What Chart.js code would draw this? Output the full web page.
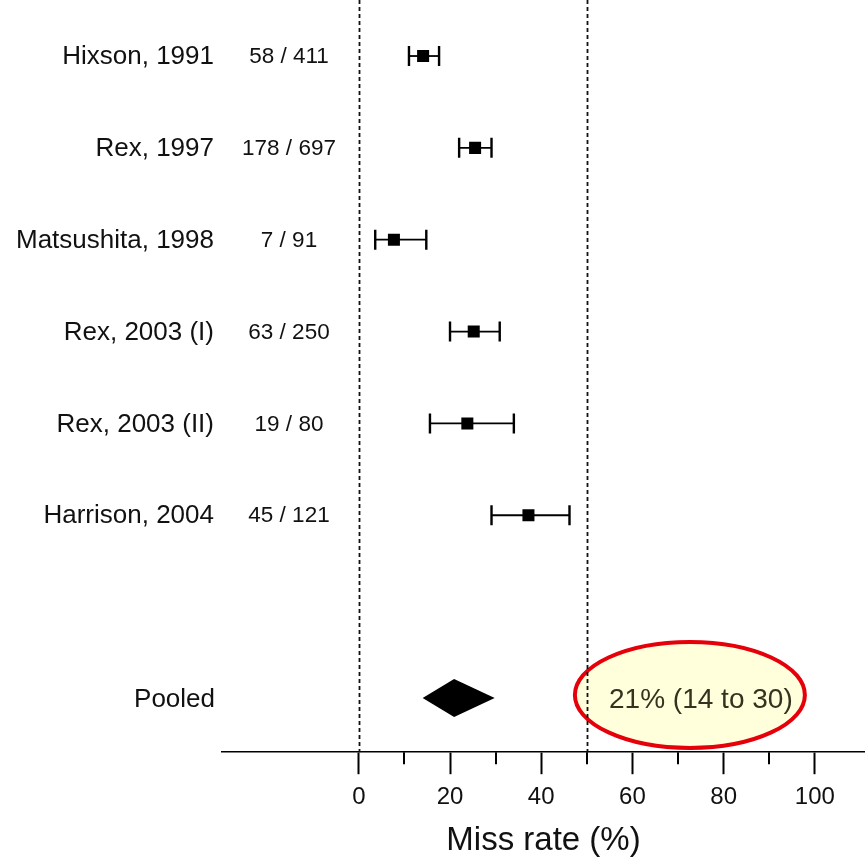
<!DOCTYPE html>
<html>
<head>
<meta charset="utf-8">
<script src="https://cdn.jsdelivr.net/npm/chart.js@4.4.1/dist/chart.umd.min.js"></script>
<style>
  html, body { margin: 0; padding: 0; background: #fff; }
  #wrap { width: 865px; height: 857px; }
</style>
</head>
<body>
<div id="wrap"><canvas id="forest" width="865" height="857"></canvas></div>
<script>
// study data (miss rate %, 95% CI)
const studies = ['Hixson, 1991', 'Rex, 1997', 'Matsushita, 1998', 'Rex, 2003 (I)', 'Rex, 2003 (II)', 'Harrison, 2004'];
const counts = ['58 / 411', '178 / 697', '7 / 91', '63 / 250', '19 / 80', '45 / 121'];
const missRate = [14.1, 25.5, 7.7, 25.2, 23.8, 37.2];
const ciLow = [11.0, 22.0, 3.6, 20.0, 15.6, 29.1];
const ciHigh = [17.6, 29.1, 14.8, 30.9, 34.0, 46.2];
const studyRows = [0, 1, 2, 3, 4, 5];

// pooled estimate
const pooledLabel = 'Pooled';
const pooledRow = 7;
const pooledEst = 20.9;
const pooledLow = 14.0;
const pooledHigh = 29.8;
const pooledText = '21% (14 to 30)';
const highlightX = 72.6;

// axis
const majorTicks = [0, 20, 40, 60, 80, 100];
const minorTicks = [10, 30, 50, 70, 90];
const refLines = [0, 50];

const FONT = "'Liberation Sans', Arial, Helvetica, sans-serif";
Chart.defaults.font.family = FONT;
Chart.defaults.color = '#111';

const forestPlugin = {
  id: 'forest',
  beforeDatasetsDraw(chart) {
    const { ctx, chartArea, scales: { x, y } } = chart;
    ctx.save();

    // highlighted pooled result
    const ey = y.getPixelForValue(pooledRow) - 4;
    ctx.beginPath();
    ctx.ellipse(x.getPixelForValue(highlightX), ey, 115, 53, 0, 0, Math.PI * 2);
    ctx.fillStyle = '#ffffdc';
    ctx.fill();
    ctx.lineWidth = 4;
    ctx.strokeStyle = '#e5000a';
    ctx.stroke();

    // dashed reference lines
    ctx.strokeStyle = '#111';
    ctx.lineWidth = 1.8;
    ctx.setLineDash([4, 3]);
    refLines.forEach(v => {
      const px = Math.round(x.getPixelForValue(v)) + 0.5;
      ctx.beginPath();
      ctx.moveTo(px, chartArea.top);
      ctx.lineTo(px, chartArea.bottom);
      ctx.stroke();
    });
    ctx.setLineDash([]);

    // confidence intervals
    ctx.strokeStyle = '#000';
    studyRows.forEach((r, i) => {
      const py = y.getPixelForValue(r);
      const x1 = x.getPixelForValue(ciLow[i]);
      const x2 = x.getPixelForValue(ciHigh[i]);
      ctx.lineWidth = 1.8;
      ctx.beginPath();
      ctx.moveTo(x1, py);
      ctx.lineTo(x2, py);
      ctx.stroke();
      ctx.lineWidth = 2.4;
      ctx.beginPath();
      ctx.moveTo(x1, py - 10);
      ctx.lineTo(x1, py + 10);
      ctx.moveTo(x2, py - 10);
      ctx.lineTo(x2, py + 10);
      ctx.stroke();
    });
    ctx.restore();
  },
  afterDatasetsDraw(chart) {
    const { ctx, chartArea, scales: { x, y } } = chart;
    ctx.save();

    // pooled diamond
    const py = y.getPixelForValue(pooledRow) - 1;
    ctx.beginPath();
    ctx.moveTo(x.getPixelForValue(pooledLow), py);
    ctx.lineTo(x.getPixelForValue(pooledEst), py - 19);
    ctx.lineTo(x.getPixelForValue(pooledHigh), py);
    ctx.lineTo(x.getPixelForValue(pooledEst), py + 19);
    ctx.closePath();
    ctx.fillStyle = '#000';
    ctx.fill();

    // pooled text inside ellipse
    ctx.fillStyle = '#33331f';
    ctx.font = '28px ' + FONT;
    ctx.textAlign = 'center';
    ctx.textBaseline = 'middle';
    ctx.fillText(pooledText, x.getPixelForValue(highlightX) + 11, py + 2);

    // row labels and counts
    ctx.fillStyle = '#111';
    studyRows.forEach((r, i) => {
      const ry = y.getPixelForValue(r);
      ctx.font = '26px ' + FONT;
      ctx.textAlign = 'right';
      ctx.fillText(studies[i], 214, ry + 1);
      ctx.font = '22.5px ' + FONT;
      ctx.textAlign = 'center';
      ctx.fillText(counts[i], 289, ry + 1);
    });
    ctx.font = '26px ' + FONT;
    ctx.textAlign = 'right';
    ctx.fillText(pooledLabel, 215, py + 2);

    // minor ticks
    ctx.strokeStyle = '#000';
    ctx.lineWidth = 2;
    minorTicks.forEach(v => {
      const px = Math.round(x.getPixelForValue(v));
      ctx.beginPath();
      ctx.moveTo(px, chartArea.bottom);
      ctx.lineTo(px, chartArea.bottom + 12);
      ctx.stroke();
    });
    ctx.restore();
  }
};

new Chart(document.getElementById('forest'), {
  type: 'scatter',
  data: {
    datasets: [{
      data: studyRows.map((r, i) => ({ x: missRate[i], y: r })),
      pointStyle: 'rect',
      pointRadius: 8.5,
      backgroundColor: '#000',
      borderWidth: 0
    }]
  },
  options: {
    responsive: false,
    animation: false,
    layout: { autoPadding: false, padding: { left: 222, right: 0, top: 0, bottom: 0 } },
    scales: {
      x: {
        type: 'linear',
        min: -30,
        max: 111,
        afterBuildTicks: (scale) => { scale.ticks = majorTicks.map(v => ({ value: v })); },
        ticks: { font: { size: 24 }, color: '#111', padding: 9, maxRotation: 0, autoSkip: false },
        grid: { drawOnChartArea: false, drawTicks: true, tickLength: 22, tickWidth: 2, tickColor: '#000' },
        border: { display: true, color: '#000', width: 1.6 },
        title: { display: true, text: 'Miss rate (%)', font: { size: 33, lineHeight: 1.0 }, color: '#111', padding: { top: 3, bottom: 0 } }
      },
      y: {
        type: 'linear',
        display: false,
        reverse: true,
        min: -0.61,
        max: 7.58
      }
    },
    plugins: {
      legend: { display: false },
      tooltip: { enabled: false }
    }
  },
  plugins: [forestPlugin]
});
</script>
</body>
</html>
